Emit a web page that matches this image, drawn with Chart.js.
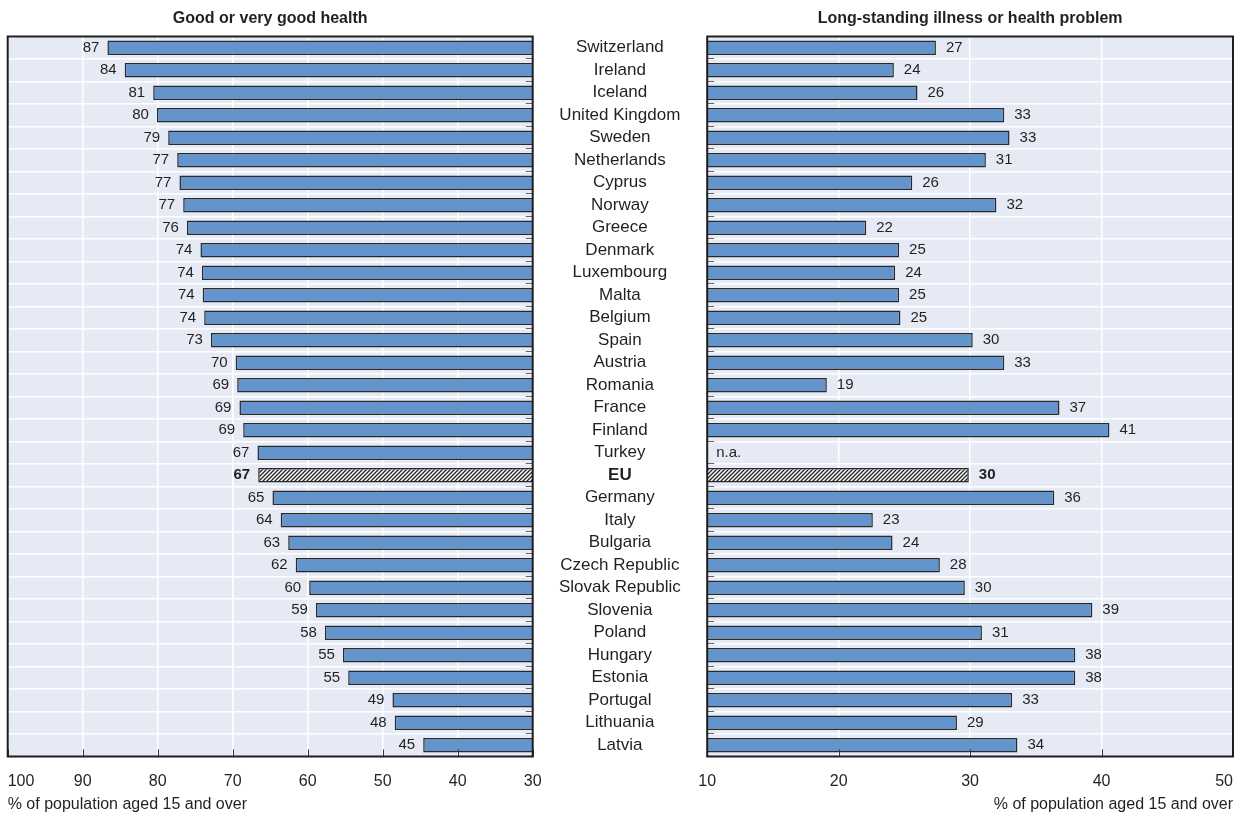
<!DOCTYPE html>
<html>
<head>
<meta charset="utf-8">
<script src="https://cdn.jsdelivr.net/npm/chart.js@4.4.1/dist/chart.umd.min.js"></script>
<style>
html,body{margin:0;padding:0;background:#fff;}
#wrap{position:relative;width:1250px;height:817px;overflow:hidden;}
canvas{position:absolute;top:0;}
#leftChart{left:0;}
#rightChart{left:690px;}
</style>
</head>
<body>
<div id="wrap">
<canvas id="leftChart" width="707" height="817"></canvas>
<canvas id="rightChart" width="560" height="817"></canvas>
</div>
<script>
/* ============================= */
/* DATA */
/* ============================= */

const countries = [
"Switzerland","Ireland","Iceland","United Kingdom","Sweden","Netherlands","Cyprus","Norway",
"Greece","Denmark","Luxembourg","Malta","Belgium","Spain","Austria","Romania","France",
"Finland","Turkey","EU","Germany","Italy","Bulgaria","Czech Republic","Slovak Republic",
"Slovenia","Poland","Hungary","Estonia","Portugal","Lithuania","Latvia"
]

// % reporting good or very good health
const goodHealth = [
86.7,84.4,80.6,80.1,78.6,77.4,77.1,76.6,
76.1,74.3,74.1,74.0,73.8,72.9,69.6,69.4,69.1,
68.6,66.7,66.6,64.7,63.6,62.6,61.6,59.8,
58.9,57.7,55.3,54.6,48.7,48.4,44.6
]

// % with a long-standing illness or health problem (Turkey n.a.)
const longIllness = [
27.4,24.2,26.0,32.6,33.0,31.2,25.6,32.0,
22.1,24.6,24.3,24.6,24.7,30.2,32.6,19.1,36.8,
40.6,null,29.9,36.4,22.6,24.1,27.7,29.6,
39.3,30.9,38.0,38.0,33.2,29.0,33.6
]

const leftTicks = [100,90,80,70,60,50,40,30]
const rightTicks = [10,20,30,40,50]

const TITLE_LEFT = "Good or very good health"
const TITLE_RIGHT = "Long-standing illness or health problem"
const FOOT = "% of population aged 15 and over"

/* ============================= */
/* STYLE */
/* ============================= */

const FONT = '"Liberation Sans", Arial, sans-serif'
const BAR = "#6494cc"
const BAR_EDGE = "#2a2a2a"
const PLOT_BG = "#e6eaf5"
const TXT = "#231f20"
const LABEL_COL = 174.3

function hatch(){
const c = document.createElement("canvas")
c.width = 4
c.height = 4
const g = c.getContext("2d")
g.fillStyle = "#fff"
g.fillRect(0,0,4,4)
g.strokeStyle = "#222"
g.lineWidth = 1.3
g.beginPath()
g.moveTo(-1,5); g.lineTo(5,-1)
g.moveTo(-1,1); g.lineTo(1,-1)
g.moveTo(3,5); g.lineTo(5,3)
g.stroke()
return g.createPattern(c,"repeat")
}

const eu = hatch()
const barColors = countries.map(c => c === "EU" ? eu : BAR)

// padding that centres the country names in the gap between the panels
function centrePad(){
const g = document.createElement("canvas").getContext("2d")
g.font = "17px "+FONT
const widest = Math.max(...countries.map(c=>g.measureText(c).width))
return (LABEL_COL-widest)/2
}

/* ============================= */
/* PANEL PLUGIN */
/* ============================= */

const panelPlugin = {
id:"panel",
beforeDraw(chart){
const {ctx, chartArea:a} = chart
ctx.save()
ctx.fillStyle = PLOT_BG
ctx.fillRect(a.left,a.top,a.right-a.left,a.bottom-a.top)
ctx.restore()
},
afterDraw(chart,args,o){
const {ctx, chartArea:a} = chart
const xs = chart.scales.x
const ys = chart.scales.y
ctx.save()

// small marks at row boundaries on the inner side
const rowH = (a.bottom-a.top)/countries.length
ctx.strokeStyle = "#666"
ctx.lineWidth = 1
for(let i=1;i<countries.length;i++){
const y = Math.round(a.top+i*rowH)-0.5
ctx.beginPath()
if(o.inner==="right"){ ctx.moveTo(a.right-7,y); ctx.lineTo(a.right,y) }
else { ctx.moveTo(a.left,y); ctx.lineTo(a.left+7,y) }
ctx.stroke()
}

// tick marks along the bottom
ctx.strokeStyle = "#333"
o.ticks.forEach(v=>{
const x = Math.round(xs.getPixelForValue(v))+0.5
ctx.beginPath()
ctx.moveTo(x,a.bottom)
ctx.lineTo(x,a.bottom-7)
ctx.stroke()
})

// frame
ctx.strokeStyle = "#1e1e1e"
ctx.lineWidth = 2
ctx.strokeRect(a.left,a.top,a.right-a.left,a.bottom-a.top)

// tick labels
ctx.fillStyle = TXT
ctx.font = "16px "+FONT
ctx.textBaseline = "middle"
o.ticks.forEach(v=>{
const x = xs.getPixelForValue(v)
ctx.textAlign = v===o.outerTick ? o.outerAlign : "center"
ctx.fillText(String(v),x,a.bottom+25)
})

// value labels
const meta = chart.getDatasetMeta(0)
const vals = chart.data.datasets[0].data
meta.data.forEach((el,i)=>{
const v = vals[i]
const bold = countries[i]==="EU"
ctx.font = (bold?"bold ":"")+"15px "+FONT
const y = ys.getPixelForValue(i)
if(v===null){
ctx.textAlign = "left"
ctx.fillText("n.a.",a.left+9,y)
return
}
if(o.inner==="right"){
ctx.textAlign = "right"
ctx.fillText(String(Math.round(v)),el.x-8,y)
}else{
ctx.textAlign = "left"
ctx.fillText(String(Math.round(v)),el.x+10,y)
}
})

// title
ctx.font = "bold 16px "+FONT
ctx.textAlign = "center"
ctx.fillStyle = TXT
ctx.fillText(o.title,(a.left+a.right)/2,19)

// footnote
ctx.font = "16px "+FONT
ctx.textAlign = o.footAlign
ctx.fillText(FOOT,o.footAlign==="left"?a.left:a.right,805)

ctx.restore()
}
}

/* ============================= */
/* LEFT CHART */
/* ============================= */

const leftChart = new Chart(
document.getElementById("leftChart"),
{
type:"bar",
data:{
labels:countries,
datasets:[{
data:goodHealth,
backgroundColor:barColors,
borderColor:BAR_EDGE,
borderWidth:1.5,
barPercentage:0.64,
categoryPercentage:1
}]
},
options:{
indexAxis:"y",
responsive:false,
animation:false,
layout:{padding:{left:7.7,top:36.5,right:0,bottom:0}},
plugins:{
legend:{display:false},
tooltip:{enabled:false},
panel:{inner:"right",ticks:leftTicks,outerTick:100,outerAlign:"left",title:TITLE_LEFT,footAlign:"left"}
},
scales:{
x:{
reverse:true,
min:30,
max:100,
ticks:{display:false,stepSize:10},
grid:{color:"#ffffff",lineWidth:1.5,drawTicks:false},
border:{display:false},
afterFit:s=>{s.height=60.5}
},
y:{
position:"right",
ticks:{
color:TXT,
autoSkip:false,
crossAlign:"center",
padding:centrePad(),
font:c=>({family:FONT,size:17,weight:countries[c.index]==="EU"?"bold":"normal"})
},
grid:{color:"#ffffff",lineWidth:1.5,offset:true,drawTicks:false},
border:{display:false},
afterFit:s=>{s.width=LABEL_COL}
}
}
},
plugins:[panelPlugin]
})

/* ============================= */
/* RIGHT CHART */
/* ============================= */

const rightChart = new Chart(
document.getElementById("rightChart"),
{
type:"bar",
data:{
labels:countries,
datasets:[{
data:longIllness,
backgroundColor:barColors,
borderColor:BAR_EDGE,
borderWidth:1.5,
barPercentage:0.64,
categoryPercentage:1
}]
},
options:{
indexAxis:"y",
responsive:false,
animation:false,
layout:{padding:{left:17.2,top:36.5,right:17,bottom:0}},
plugins:{
legend:{display:false},
tooltip:{enabled:false},
panel:{inner:"left",ticks:rightTicks,outerTick:50,outerAlign:"right",title:TITLE_RIGHT,footAlign:"right"}
},
scales:{
x:{
min:10,
max:50,
ticks:{display:false,stepSize:10},
grid:{color:"#ffffff",lineWidth:1.5,drawTicks:false},
border:{display:false},
afterFit:s=>{s.height=60.5}
},
y:{
display:true,
ticks:{display:false},
grid:{color:"#ffffff",lineWidth:1.5,offset:true,drawTicks:false},
border:{display:false},
afterFit:s=>{s.width=0}
}
}
},
plugins:[panelPlugin]
})
</script>
</body>
</html>
